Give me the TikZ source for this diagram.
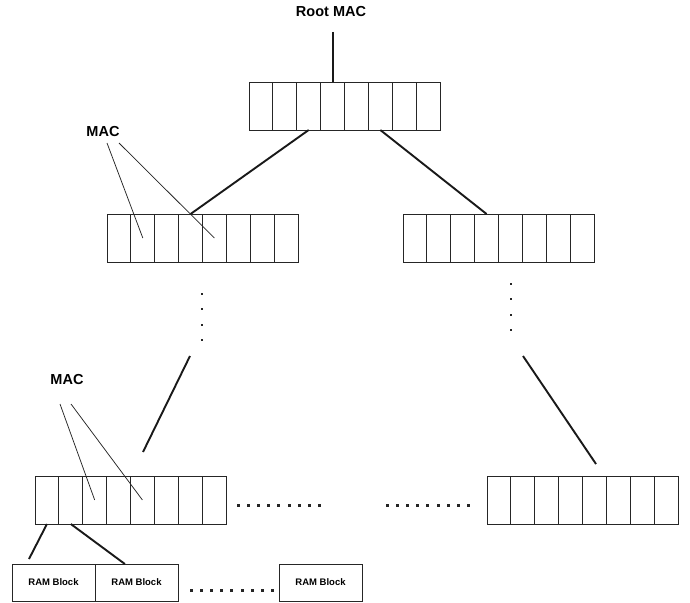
\documentclass[tikz,border=0pt]{standalone}
\usepackage{fontspec}
\setmainfont{Liberation Sans}
\usetikzlibrary{calc}
\tikzset{
  arr/.style={draw=black!85, line width=0.9pt, minimum width=191pt, minimum height=48pt, inner sep=0pt, outer sep=0pt, anchor=north west},
  cellline/.style={draw=black!85, line width=0.9pt},
  ram/.style={draw=black!85, line width=0.9pt, minimum width=83pt, minimum height=37pt, inner sep=0pt, outer sep=0pt, anchor=north west, font=\fontsize{9.5}{11}\selectfont\bfseries},
  lbl/.style={font=\fontsize{14.5}{16}\selectfont\bfseries, inner sep=0pt},
  conn/.style={line width=1.9pt, black!90},
  ptr/.style={line width=0.75pt, black!85},
  dotmark/.style={fill=black!85}
}
\newcommand\macarr[3]{%
  \node[arr] (#1) at (#2,#3) {};
  \foreach \i in {1,...,7}
    \draw[cellline] ($(#1.north west)!\i/8!(#1.north east)$) -- ($(#1.south west)!\i/8!(#1.south east)$);
}
\newcommand\hdotrow[3]{% start x, y, count
  \foreach \k in {1,...,#3}
    \fill[dotmark] ({#1+(\k-1)*10.2-1.5},{#2-1.5}) rectangle ++(3,3);
}
\newcommand\vdotcol[3]{% x, start y, count
  \foreach \k in {1,...,#3}
    \fill[dotmark] ({#1-1.1},{#2+(\k-1)*15.3-1.1}) rectangle ++(2.2,2.2);
}
\begin{document}
\begin{tikzpicture}[x=1pt,y=-1pt]
\useasboundingbox (0,0) rectangle (690,602);

% arrays
\macarr{root}{249}{82}
\macarr{ml}{107}{214}
\macarr{mr}{403}{214}
\macarr{bl}{35}{476}
\macarr{br}{487}{476}

% labels
\node[lbl] (rootlbl) at (331,12) {Root MAC};
\node[lbl] (mac1) at (103,132) {MAC};
\node[lbl] (mac2) at (67,380) {MAC};

% RAM blocks
\node[ram] (ram1) at (12,564) {RAM Block};
\node[ram] (ram2) at (95,564) {RAM Block};
\node[ram] (ram3) at (279,564) {RAM Block};

% root connector
\coordinate (rtop) at ($(root.north west)!3.5/8!(root.north east)$);
\coordinate (rlead) at ($(rtop)+(0,-50)$);
\draw[conn] (rlead) -- (rtop);

% root to middle arrays
\draw[conn] ($(root.south west)!2.5/8!(root.south east)$) -- ($(ml.north west)!3.5/8!(ml.north east)$);
\draw[conn] ($(root.south west)!5.5/8!(root.south east)$) -- ($(mr.north west)!3.5/8!(mr.north east)$);

% MAC pointers (middle)
\coordinate (p1a) at (107,143);
\coordinate (p1b) at (119,143);
\draw[ptr] (p1a) -- ($(ml.west)!1.5/8!(ml.east)$);
\draw[ptr] (p1b) -- ($(ml.west)!4.5/8!(ml.east)$);

% MAC pointers (bottom)
\coordinate (p2a) at (60,404);
\coordinate (p2b) at (71,404);
\draw[ptr] (p2a) -- ($(bl.west)!2.5/8!(bl.east)$);
\draw[ptr] (p2b) -- ($(bl.west)!4.5/8!(bl.east)$);

% vertical dots
\vdotcol{202}{294}{4}
\vdotcol{511}{284}{4}

% partial connectors to bottom arrays
\coordinate (l1a) at (190,356);
\coordinate (l1b) at (143,452);
\draw[conn] (l1a) -- (l1b);
\coordinate (l2a) at (523,356);
\coordinate (l2b) at (596,464);
\draw[conn] (l2a) -- (l2b);

% horizontal dots
\hdotrow{238}{505}{9}
\hdotrow{387}{505}{9}
\hdotrow{191}{590}{9}

% bottom array to RAM blocks
\coordinate (rl1) at (29,559);
\draw[conn] ($(bl.south west)!0.5/8!(bl.south east)$) -- (rl1);
\draw[conn] ($(bl.south west)!1.5/8!(bl.south east)$) -- ($(ram2.north west)!0.36!(ram2.north east)$);
\end{tikzpicture}
\end{document}
